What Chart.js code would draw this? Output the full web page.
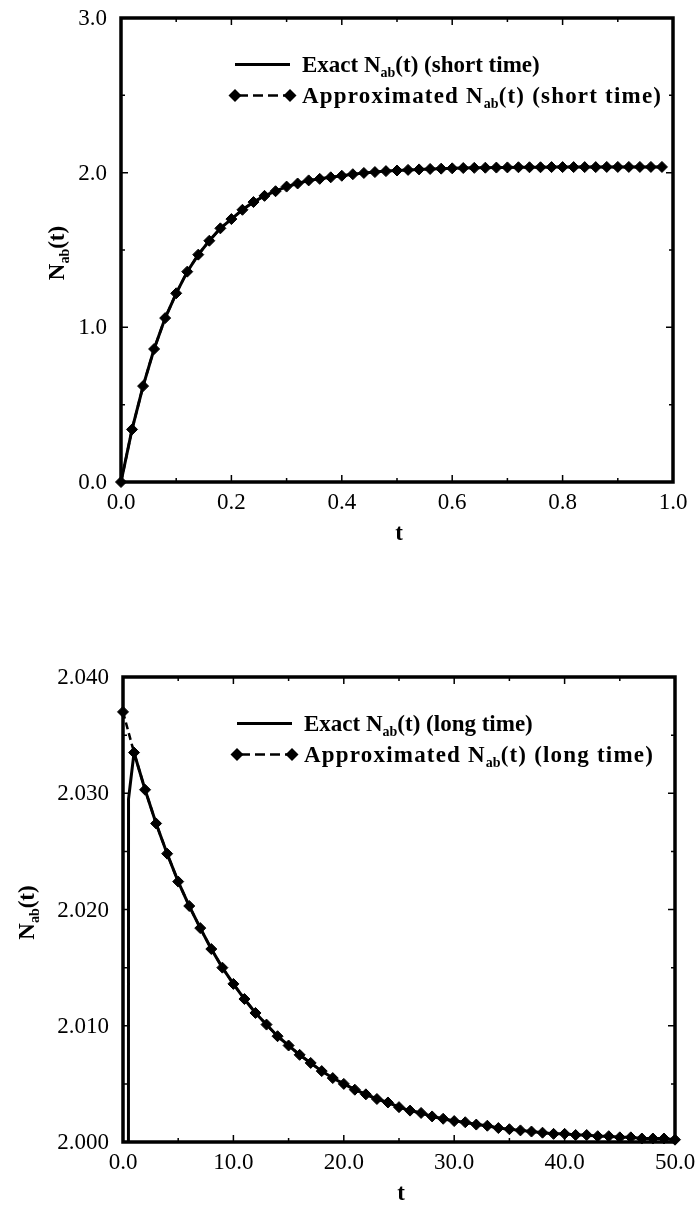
<!DOCTYPE html>
<html>
<head>
<meta charset="utf-8">
<script src="https://cdn.jsdelivr.net/npm/chart.js@4"></script>
<style>
  html, body { margin: 0; padding: 0; background: #fff; }
  #wrap { position: relative; width: 698px; height: 1207px; overflow: hidden; }
  canvas { position: absolute; left: 0; }
</style>
</head>
<body>
<div id="wrap">
  <canvas id="shortChart" width="698" height="600" style="top:0"></canvas>
  <canvas id="longChart" width="698" height="607" style="top:600px"></canvas>
</div>
<script>
// ---- short-time run ----
const shortT = [0, 0.02, 0.04, 0.06, 0.08, 0.10, 0.12, 0.14, 0.16, 0.18,
                0.20, 0.22, 0.24, 0.26, 0.28, 0.30, 0.32, 0.34, 0.36, 0.38,
                0.40, 0.42, 0.44, 0.46, 0.48, 0.50, 0.52, 0.54, 0.56, 0.58,
                0.60, 0.62, 0.64, 0.66, 0.68, 0.70, 0.72, 0.74, 0.76, 0.78,
                0.80, 0.82, 0.84, 0.86, 0.88, 0.90, 0.92, 0.94, 0.96, 0.98];
const shortExact = [0, 0.34, 0.62, 0.86, 1.06, 1.22, 1.36, 1.47, 1.56, 1.64,
                    1.70, 1.76, 1.81, 1.85, 1.88, 1.91, 1.93, 1.95, 1.96, 1.97,
                    1.98, 1.99, 1.998, 2.004, 2.010, 2.014, 2.018, 2.021, 2.024, 2.026,
                    2.028, 2.030, 2.031, 2.032, 2.033, 2.034, 2.035, 2.035, 2.035, 2.036,
                    2.036, 2.036, 2.036, 2.036, 2.037, 2.037, 2.037, 2.037, 2.037, 2.037];
const shortApprox = [0, 0.34, 0.62, 0.86, 1.06, 1.22, 1.36, 1.47, 1.56, 1.64,
                     1.70, 1.76, 1.81, 1.85, 1.88, 1.91, 1.93, 1.95, 1.96, 1.97,
                     1.98, 1.99, 1.998, 2.004, 2.010, 2.014, 2.018, 2.021, 2.024, 2.026,
                     2.028, 2.030, 2.031, 2.032, 2.033, 2.034, 2.035, 2.035, 2.035, 2.036,
                     2.036, 2.036, 2.036, 2.036, 2.037, 2.037, 2.037, 2.037, 2.037, 2.037];
const shortXTicks = [0, 0.2, 0.4, 0.6, 0.8, 1.0];
const shortYTicks = [0, 1, 2, 3];
const shortLegend = ['Exact N_{ab}(t) (short time)', 'Approximated N_{ab}(t) (short time)'];

// ---- long-time run ----
const longT = [0, 1, 2, 3, 4, 5, 6, 7, 8, 9, 10, 11, 12, 13, 14, 15, 16, 17, 18, 19,
               20, 21, 22, 23, 24, 25, 26, 27, 28, 29, 30, 31, 32, 33, 34, 35, 36, 37, 38, 39,
               40, 41, 42, 43, 44, 45, 46, 47, 48, 49, 50];
const longApprox = [2.0370, 2.0335, 2.0303, 2.0274, 2.0248, 2.0224, 2.0203, 2.0184, 2.0166, 2.0150,
                    2.0136, 2.0123, 2.0111, 2.0101, 2.0091, 2.0083, 2.0075, 2.0068, 2.0061, 2.0055,
                    2.0050, 2.0045, 2.0041, 2.0037, 2.0034, 2.0030, 2.0027, 2.0025, 2.0022, 2.0020,
                    2.0018, 2.0017, 2.0015, 2.0014, 2.0012, 2.0011, 2.0010, 2.0009, 2.0008, 2.0007,
                    2.0007, 2.0006, 2.0006, 2.0005, 2.0005, 2.0004, 2.0004, 2.0003, 2.0003, 2.0003,
                    2.0002];
const longExactT = [0, 0.5, 1, 2, 3, 4, 5, 6, 7, 8, 9, 10, 11, 12, 13, 14, 15, 16, 17, 18, 19,
                    20, 21, 22, 23, 24, 25, 26, 27, 28, 29, 30, 31, 32, 33, 34, 35, 36, 37, 38, 39,
                    40, 41, 42, 43, 44, 45, 46, 47, 48, 49, 50];
const longExact = [0, 2.0295, 2.0335, 2.0303, 2.0274, 2.0248, 2.0224, 2.0203, 2.0184, 2.0166, 2.0150,
                   2.0136, 2.0123, 2.0111, 2.0101, 2.0091, 2.0083, 2.0075, 2.0068, 2.0061, 2.0055,
                   2.0050, 2.0045, 2.0041, 2.0037, 2.0034, 2.0030, 2.0027, 2.0025, 2.0022, 2.0020,
                   2.0018, 2.0017, 2.0015, 2.0014, 2.0012, 2.0011, 2.0010, 2.0009, 2.0008, 2.0007,
                   2.0007, 2.0006, 2.0006, 2.0005, 2.0005, 2.0004, 2.0004, 2.0003, 2.0003, 2.0003,
                   2.0002];
const longXTicks = [0, 10, 20, 30, 40, 50];
const longYTicks = [2.000, 2.010, 2.020, 2.030, 2.040];
const longLegend = ['Exact N_{ab}(t) (long time)', 'Approximated N_{ab}(t) (long time)'];

const yTitle = 'N_{ab}(t)';
const xTitle = 't';

const SERIF = '"Liberation Serif", "Times New Roman", serif';

// split "N_{ab}(t)" into normal / subscript runs
function runs(text) {
  const out = [];
  const re = /_\{([^}]*)\}/g;
  let last = 0, m;
  while ((m = re.exec(text))) {
    if (m.index > last) out.push({ s: text.slice(last, m.index), sub: false });
    out.push({ s: m[1], sub: true });
    last = re.lastIndex;
  }
  if (last < text.length) out.push({ s: text.slice(last), sub: false });
  return out;
}
function setFont(ctx, sub, size, spacing) {
  ctx.font = 'bold ' + (sub ? Math.round(size * 0.6) : size) + 'px ' + SERIF;
  ctx.letterSpacing = (sub ? 0 : (spacing || 0)) + 'px';
}
function richWidth(ctx, text, size, spacing) {
  let w = 0;
  for (const r of runs(text)) {
    setFont(ctx, r.sub, size, spacing);
    w += ctx.measureText(r.s).width;
  }
  ctx.letterSpacing = '0px';
  return w;
}
function drawRich(ctx, text, x, y, size, spacing) {
  ctx.textBaseline = 'alphabetic';
  ctx.textAlign = 'left';
  for (const r of runs(text)) {
    setFont(ctx, r.sub, size, spacing);
    ctx.fillText(r.s, x, r.sub ? y + size * 0.22 : y);
    x += ctx.measureText(r.s).width;
  }
  ctx.letterSpacing = '0px';
}
function diamond(ctx, x, y, r) {
  ctx.beginPath();
  ctx.moveTo(x - r, y); ctx.lineTo(x, y - r); ctx.lineTo(x + r, y); ctx.lineTo(x, y + r);
  ctx.closePath();
  ctx.fill();
}

// frame, inward ticks, tick labels, axis titles and legend
const decor = {
  id: 'decor',
  afterDatasetsDraw(chart, args, o) {
    const { ctx, chartArea: a, scales: { x, y } } = chart;
    ctx.save();
    ctx.fillStyle = '#000';
    ctx.strokeStyle = '#000';

    // box
    ctx.lineWidth = 3.5;
    ctx.strokeRect(a.left, a.top, a.right - a.left, a.bottom - a.top);

    // inward ticks on all four sides
    ctx.lineWidth = 1.5;
    const tickX = (v, len) => {
      const px = x.getPixelForValue(v);
      ctx.beginPath();
      ctx.moveTo(px, a.bottom); ctx.lineTo(px, a.bottom - len);
      ctx.moveTo(px, a.top); ctx.lineTo(px, a.top + len);
      ctx.stroke();
    };
    const tickY = (v, len) => {
      const py = y.getPixelForValue(v);
      ctx.beginPath();
      ctx.moveTo(a.left, py); ctx.lineTo(a.left + len, py);
      ctx.moveTo(a.right, py); ctx.lineTo(a.right - len, py);
      ctx.stroke();
    };
    const xMaj = o.xTicks, yMaj = o.yTicks;
    for (let i = 0; i < xMaj.length - 1; i++) tickX((xMaj[i] + xMaj[i + 1]) / 2, 4);
    for (let i = 0; i < yMaj.length - 1; i++) tickY((yMaj[i] + yMaj[i + 1]) / 2, 4);
    xMaj.forEach(v => tickX(v, 7));
    yMaj.forEach(v => tickY(v, 7));

    // tick labels
    ctx.font = o.tickSize + 'px ' + SERIF;
    ctx.textBaseline = 'middle';
    ctx.textAlign = 'center';
    xMaj.forEach(v => ctx.fillText(v.toFixed(o.xDec), x.getPixelForValue(v), a.bottom + 21));
    ctx.textAlign = 'right';
    yMaj.forEach(v => ctx.fillText(v.toFixed(o.yDec), a.left - 14, y.getPixelForValue(v) + 1));

    // x title
    ctx.font = 'bold 23px ' + SERIF;
    ctx.textAlign = 'center';
    ctx.fillText(xTitle, (a.left + a.right) / 2 + 2, a.bottom + 52);

    // y title, rotated
    const tw = richWidth(ctx, yTitle, 23);
    ctx.save();
    ctx.translate(o.yTitleX, (a.top + a.bottom) / 2 + 3);
    ctx.rotate(-Math.PI / 2);
    drawRich(ctx, yTitle, -tw / 2, 8, 23);
    ctx.restore();

    // legend
    const lx0 = a.left + 114, lx1 = a.left + 169, tx = a.left + 181;
    const r1 = a.top + 46.5, r2 = a.top + 77.5;
    ctx.lineWidth = 3;
    ctx.setLineDash([]);
    ctx.beginPath(); ctx.moveTo(lx0, r1); ctx.lineTo(lx1, r1); ctx.stroke();
    ctx.lineWidth = 2.5;
    ctx.setLineDash([10, 5]);
    ctx.lineDashOffset = -3;
    ctx.beginPath(); ctx.moveTo(lx0, r2); ctx.lineTo(lx1, r2); ctx.stroke();
    ctx.setLineDash([]);
    ctx.lineDashOffset = 0;
    diamond(ctx, lx0, r2, 6.5);
    diamond(ctx, lx1, r2, 6.5);
    drawRich(ctx, o.legend[0], tx, r1 + 7, 23, 0);
    drawRich(ctx, o.legend[1], tx, r2 + 7, 23, 1.2);

    ctx.restore();
  }
};

function makeChart(id, t, approx, te, exact, c) {
  return new Chart(document.getElementById(id), {
    type: 'line',
    data: {
      datasets: [
        {
          label: 'approx',
          data: t.map((v, i) => ({ x: v, y: approx[i] })),
          borderColor: '#000',
          borderWidth: 2.5,
          borderDash: [7, 4],
          pointStyle: 'rectRot',
          pointRadius: 5.5,
          pointBorderWidth: 1,
          pointBackgroundColor: '#000',
          pointBorderColor: '#000',
          tension: 0,
          clip: false
        },
        {
          label: 'exact',
          data: te.map((v, i) => ({ x: v, y: exact[i] })),
          borderColor: '#000',
          borderWidth: 3,
          pointRadius: 0,
          tension: 0,
          clip: 0
        }
      ]
    },
    options: {
      responsive: false,
      animation: false,
      events: [],
      layout: { padding: { top: c.top, right: c.right, left: 0, bottom: 0 } },
      plugins: {
        legend: { display: false },
        tooltip: { enabled: false },
        decor: c.decor
      },
      scales: {
        x: {
          type: 'linear', min: c.xMin, max: c.xMax,
          grid: { display: false, drawTicks: false },
          border: { display: false },
          ticks: { display: false },
          afterFit(s) { s.height = c.xH; }
        },
        y: {
          type: 'linear', min: c.yMin, max: c.yMax,
          grid: { display: false, drawTicks: false },
          border: { display: false },
          ticks: { display: false },
          afterFit(s) { s.width = c.yW; }
        }
      }
    },
    plugins: [decor]
  });
}

makeChart('shortChart', shortT, shortApprox, shortT, shortExact, {
  top: 18, right: 25, xH: 118, yW: 121,
  xMin: 0, xMax: 1, yMin: 0, yMax: 3,
  decor: { xTicks: shortXTicks, yTicks: shortYTicks, xDec: 1, yDec: 1, tickSize: 23, yTitleX: 56, legend: shortLegend }
});

makeChart('longChart', longT, longApprox, longExactT, longExact, {
  top: 77, right: 23, xH: 65, yW: 123,
  xMin: 0, xMax: 50, yMin: 2.0, yMax: 2.04,
  decor: { xTicks: longXTicks, yTicks: longYTicks, xDec: 1, yDec: 3, tickSize: 23, yTitleX: 26, legend: longLegend }
});
</script>
</body>
</html>
